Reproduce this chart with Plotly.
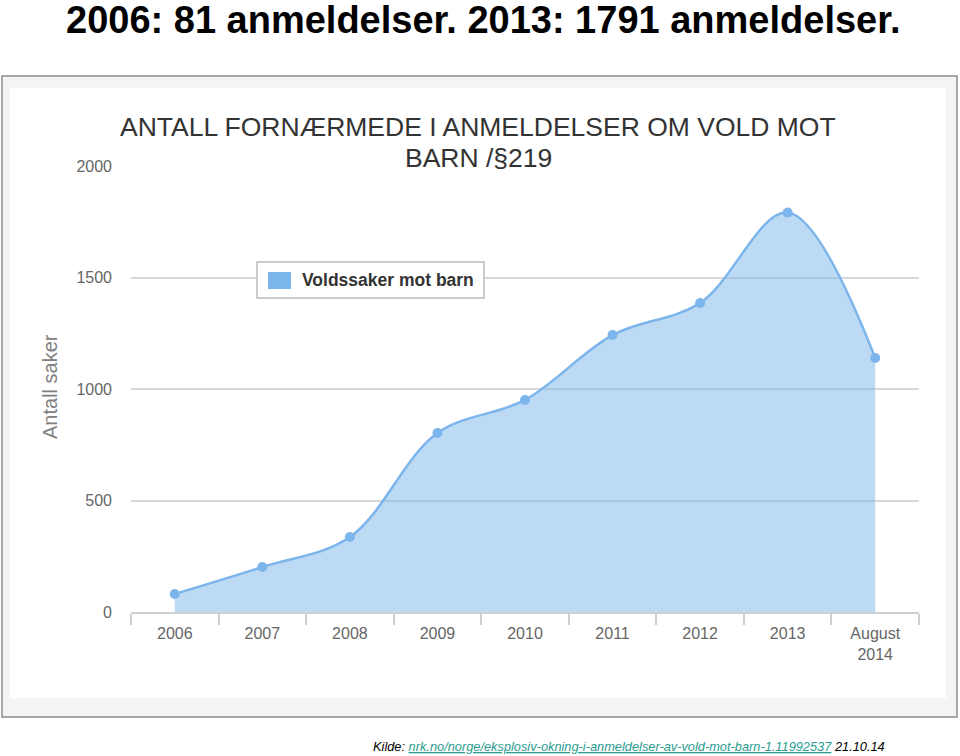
import plotly.graph_objects as go

# ---------------- data ----------------
categories = ["2006", "2007", "2008", "2009", "2010", "2011", "2012", "2013", "August<br>2014"]
voldssaker = [81, 202, 336, 803, 951, 1242, 1386, 1791, 1139]
y_ticks = [0, 500, 1000, 1500, 2000]
series_name = "Voldssaker mot barn"

# ---------------- layout geometry ----------------
W, H = 960, 756
L, R, T, B = 131, 41, 166, 144
PW, PH = W - L - R, H - T - B


def px(x):
    return (x - L) / PW


def py(y):
    return (H - B - y) / PH


BLUE = "#7cb5ec"
AXIS = "#cfcfcf"
FONT = "Liberation Sans, Arial, sans-serif"

fig = go.Figure()
fig.add_trace(go.Scatter(
    x=categories, y=voldssaker,
    mode="lines+markers",
    line=dict(color=BLUE, width=2.5, shape="spline", smoothing=1),
    marker=dict(color=BLUE, size=10),
    fill="tozeroy", fillcolor="rgba(124,181,236,0.5)",
    name=series_name, showlegend=False,
))

shapes = [
    # outer frame
    dict(type="rect", xref="paper", yref="paper", layer="below",
         x0=px(2), x1=px(957), y0=py(76), y1=py(717),
         fillcolor="#f4f4f4", line=dict(color="#8c8c8c", width=1.5)),
    # inner white card
    dict(type="rect", xref="paper", yref="paper", layer="below",
         x0=px(10), x1=px(946), y0=py(88), y1=py(698),
         fillcolor="#ffffff", line=dict(width=0)),
    # legend box
    dict(type="rect", xref="paper", yref="paper", layer="above",
         x0=px(257), x1=px(484), y0=py(262), y1=py(298),
         fillcolor="#ffffff", line=dict(color="#bcbcbc", width=1.5)),
    dict(type="rect", xref="paper", yref="paper", layer="above",
         x0=px(268), x1=px(291), y0=py(272), y1=py(289),
         fillcolor=BLUE, line=dict(width=0)),
]

annotations = [
    dict(text="<b>2006: 81 anmeldelser. 2013: 1791 anmeldelser.</b>",
         x=px(483), y=py(-3), xref="paper", yref="paper", showarrow=False,
         xanchor="center", yanchor="top",
         font=dict(family=FONT, size=38, color="#000000")),
    dict(text="ANTALL FORNÆRMEDE I ANMELDELSER OM VOLD MOT",
         x=px(478), y=py(127), xref="paper", yref="paper", showarrow=False,
         xanchor="center", yanchor="middle",
         font=dict(family=FONT, size=26.5, color="#333333")),
    dict(text="BARN /§219",
         x=px(478), y=py(158), xref="paper", yref="paper", showarrow=False,
         xanchor="center", yanchor="middle",
         font=dict(family=FONT, size=26.5, color="#333333")),
    dict(text="Antall saker",
         x=px(50), y=py(387), xref="paper", yref="paper", showarrow=False,
         xanchor="center", yanchor="middle", textangle=-90,
         font=dict(family=FONT, size=20, color="#808080")),
    dict(text="<b>" + series_name + "</b>",
         x=px(300), y=py(280), xref="paper", yref="paper", showarrow=False,
         xanchor="left", yanchor="middle",
         font=dict(family=FONT, size=17.5, color="#333333")),
    dict(text="<i>Kilde: <span style='color:#2a9d8f'><u>nrk.no/norge/eksplosiv-okning-i-anmeldelser-av-vold-mot-barn-1.11992537</u></span> 21.10.14</i>",
         x=px(629), y=py(746), xref="paper", yref="paper", showarrow=False,
         xanchor="center", yanchor="middle",
         font=dict(family=FONT, size=12.8, color="#000000")),
]

fig.update_layout(
    width=W, height=H,
    margin=dict(l=L, r=R, t=T, b=B, pad=0),
    paper_bgcolor="#ffffff",
    plot_bgcolor="rgba(0,0,0,0)",
    shapes=shapes,
    annotations=annotations,
    showlegend=False,
    xaxis=dict(
        type="category", range=[-0.5, len(categories) - 0.5],
        tickson="boundaries", ticks="outside", ticklen=11,
        tickcolor=AXIS, tickwidth=1.5,
        showline=True, linecolor=AXIS, linewidth=1.5,
        showgrid=False, zeroline=False,
        ticklabelstandoff=6,
        tickfont=dict(family=FONT, size=16, color="#666666"),
        fixedrange=True,
    ),
    yaxis=dict(
        range=[0, 2000], tickvals=y_ticks, ticktext=[str(v) for v in y_ticks],
        showgrid=True, gridcolor="#d8d8d8", gridwidth=1.5,
        zeroline=False, showline=False, ticks="",
        ticklabelstandoff=18,
        tickfont=dict(family=FONT, size=16, color="#666666"),
        fixedrange=True,
    ),
)

fig.write_html(
    "out.html",
    config={"displayModeBar": False},
    post_script="document.body.style.margin='0';document.body.style.padding='0';",
)
